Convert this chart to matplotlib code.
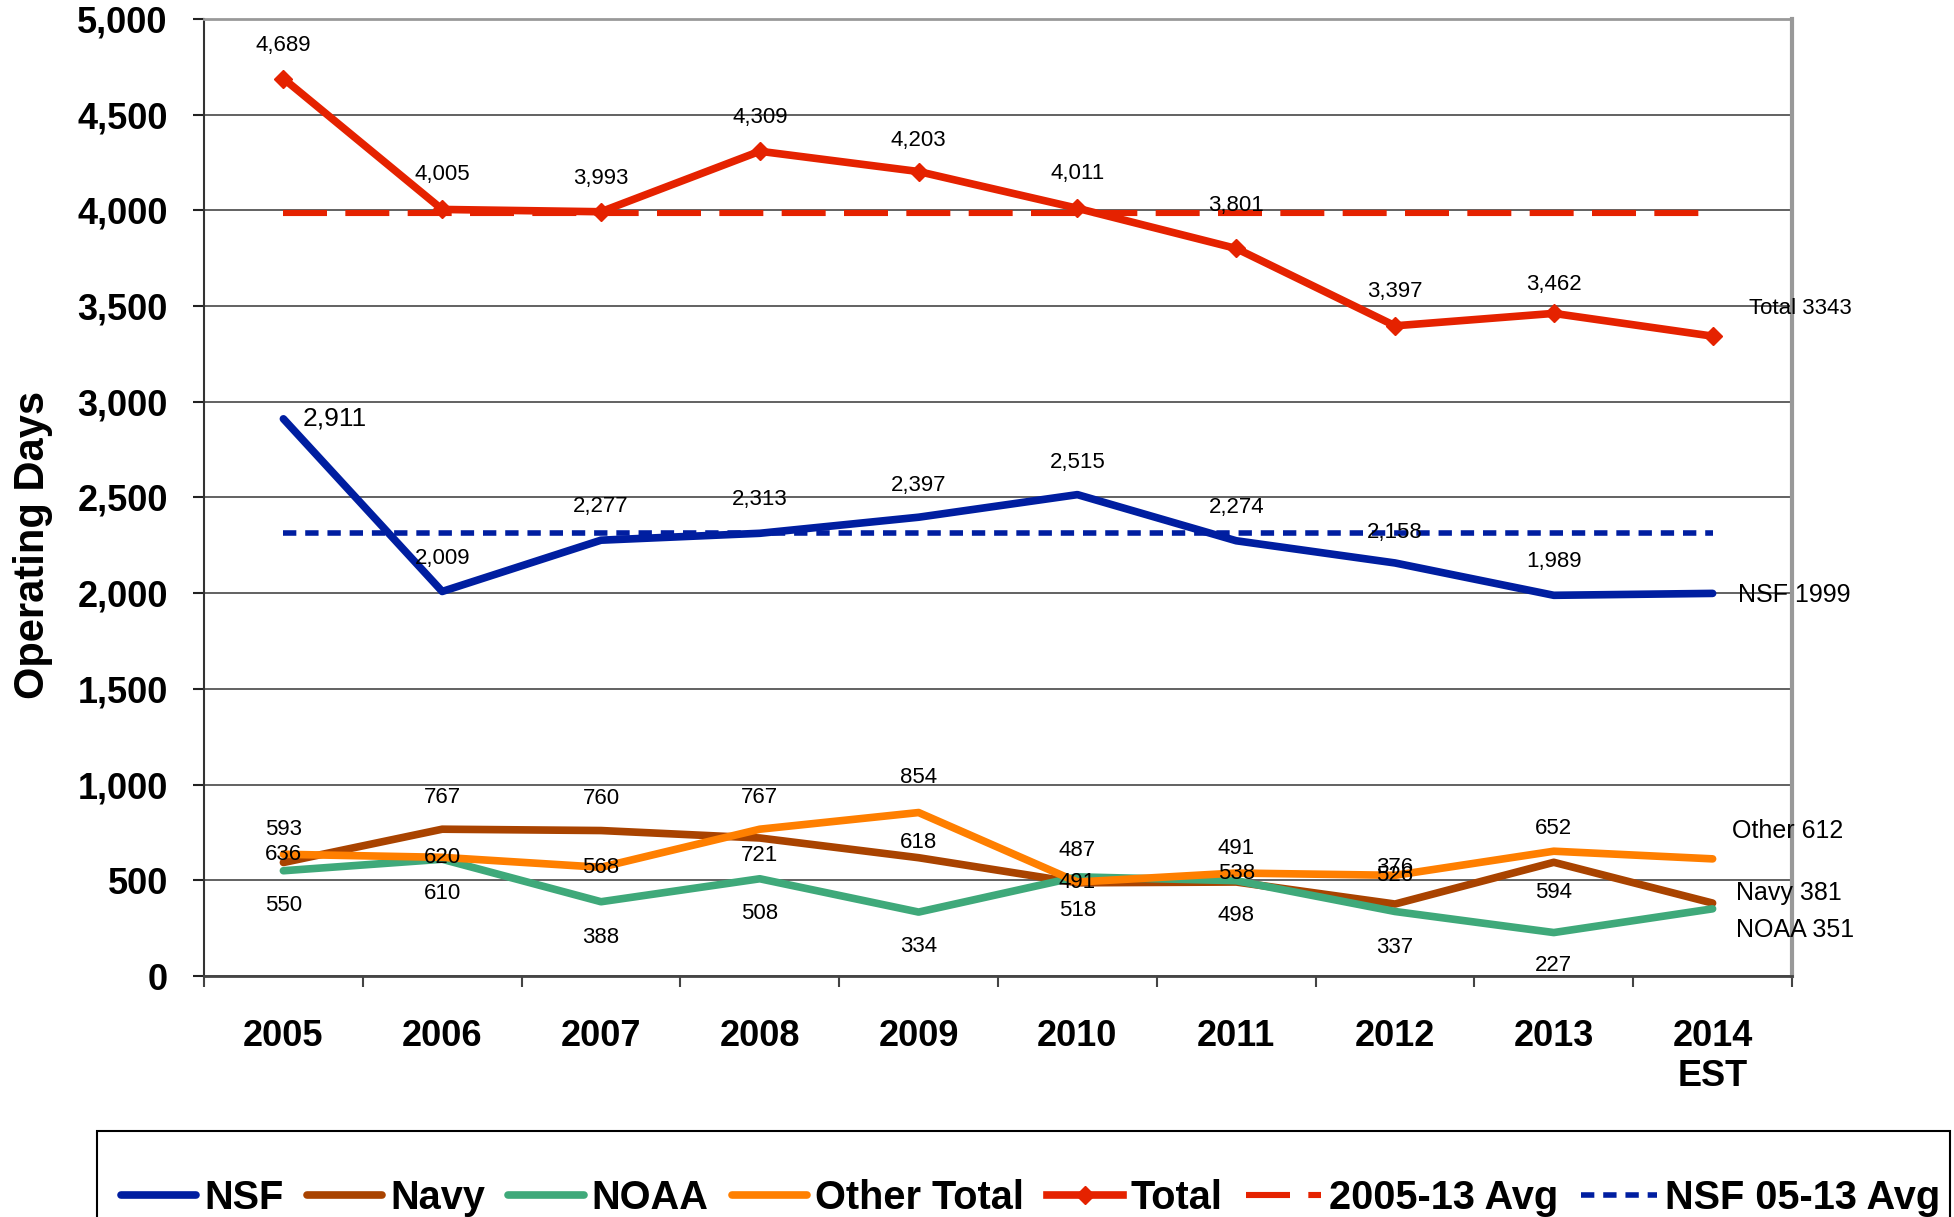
import matplotlib
matplotlib.use('Agg')
import matplotlib.pyplot as plt
from matplotlib.patches import Rectangle

plt.rcParams['font.family'] = ['Liberation Sans', 'DejaVu Sans']

# Data
years = ['2005', '2006', '2007', '2008', '2009', '2010', '2011', '2012', '2013', '2014\nEST']
nsf = [2911, 2009, 2277, 2313, 2397, 2515, 2274, 2158, 1989, 1999]
navy = [593, 767, 760, 721, 618, 487, 491, 376, 594, 381]
noaa = [550, 610, 388, 508, 334, 518, 498, 337, 227, 351]
other = [636, 620, 568, 767, 854, 491, 538, 526, 652, 612]
total = [4689, 4005, 3993, 4309, 4203, 4011, 3801, 3397, 3462, 3343]
total_avg = [3986] * 10
nsf_avg = [2316] * 10

# label offsets (points, + is up)
off_total = [24, 25, 24, 24, 22, 25, 31, 25, 21]
off_nsf = [24, 24, 24, 23, 23, 24, 22, 24]
off_navy = [24, 23, 23, -12.5, 11, 23, 24, 26, -22]
off_other = [0, 0, 0, 23, 25, 0, 0, 0, 16]
off_noaa = [-25, -25, -26, -25, -25, -24, -25, -26, -24]

c_nsf = '#001EA0'
c_navy = '#A94300'
c_noaa = '#3FA97A'
c_other = '#FF7F00'
c_total = '#E52200'

fig = plt.figure(figsize=(19.54, 12.17), dpi=100)
ax = fig.add_axes([204 / 1954, 1 - 976 / 1217, (1792 - 204) / 1954, (976 - 19) / 1217])
x = list(range(len(years)))

lw = 5.5
ax.plot(x, total_avg, color=c_total, lw=4.4, dashes=(7.2, 3.0), label='2005-13 Avg', zorder=2)
ax.plot(x, nsf_avg, color=c_nsf, lw=4, dashes=(2.4, 1.6), label='NSF 05-13 Avg', zorder=2)
ax.plot(x, nsf, color=c_nsf, lw=lw, label='NSF', zorder=3, solid_capstyle='round')
ax.plot(x, navy, color=c_navy, lw=lw, label='Navy', zorder=3, solid_capstyle='round')
ax.plot(x, noaa, color=c_noaa, lw=lw, label='NOAA', zorder=3, solid_capstyle='round')
ax.plot(x, other, color=c_other, lw=lw, label='Other Total', zorder=3, solid_capstyle='round')
ax.plot(x, total, color=c_total, lw=lw, marker='D', ms=9, label='Total', zorder=3)

ax.set_xlim(-0.5, 9.5)
ax.set_ylim(0, 5000)
ax.set_yticks(range(0, 5001, 500))
ax.set_yticklabels([f'{v:,}' for v in range(0, 5001, 500)], fontsize=26, fontweight='bold')
ax.set_xticks(x)
ax.set_xticklabels(years, fontsize=26, fontweight='bold', linespacing=1.2)
ax.set_xticks([i + 0.5 for i in range(-1, 10)], minor=True)
ax.tick_params(axis='x', which='major', length=0, pad=31)
ax.tick_params(axis='x', which='minor', length=8, width=1.5, color='#444444', direction='out')
ax.tick_params(axis='y', length=8, width=1.5, pad=18, color='#222222')
ax.grid(axis='y', color='#555555', lw=1.3, zorder=0)
ax.set_axisbelow(True)
ax.spines['left'].set_color('#333333')
ax.spines['left'].set_linewidth(1.5)
ax.spines['bottom'].set_color('#444444')
ax.spines['bottom'].set_linewidth(2)
ax.spines['top'].set_color('#999999')
ax.spines['top'].set_linewidth(2)
ax.spines['right'].set_color('#999999')
ax.spines['right'].set_linewidth(3)

ax.set_ylabel('Operating Days', fontsize=30, fontweight='bold')
ax.yaxis.set_label_coords(-0.095, 0.45)

lab = dict(textcoords='offset points', ha='center', va='center', fontsize=16, zorder=5)
for i in range(9):
    ax.annotate(f'{total[i]:,}', (i, total[i]), xytext=(0, off_total[i]), **lab)
ax.annotate(f'{nsf[0]:,}', (0, nsf[0]), xytext=(14, 0), textcoords='offset points',
            ha='left', va='center', fontsize=19, zorder=5)
for i in range(1, 9):
    ax.annotate(f'{nsf[i]:,}', (i, nsf[i]), xytext=(0, off_nsf[i - 1]), **lab)
for i in range(9):
    ax.annotate(f'{navy[i]:,}', (i, navy[i]), xytext=(0, off_navy[i]), **lab)
    ax.annotate(f'{other[i]:,}', (i, other[i]), xytext=(0, off_other[i]), **lab)
    ax.annotate(f'{noaa[i]:,}', (i, noaa[i]), xytext=(0, off_noaa[i]), **lab)

end = dict(textcoords='offset points', ha='left', va='center', fontsize=18, zorder=5)
ax.annotate(f'Total {total[9]}', (9, total[9]), xytext=(26, 20), textcoords='offset points',
            ha='left', va='center', fontsize=16, zorder=5)
ax.annotate(f'NSF {nsf[9]}', (9, nsf[9]), xytext=(18, -1), **end)
ax.annotate(f'Other {other[9]}', (9, other[9]), xytext=(14, 20), **end)
ax.annotate(f'Navy {navy[9]}', (9, navy[9]), xytext=(17, 7), **end)
ax.annotate(f'NOAA {noaa[9]}', (9, noaa[9]), xytext=(17, -15), **end)

# legend
h, l = ax.get_legend_handles_labels()
order = ['NSF', 'Navy', 'NOAA', 'Other Total', 'Total', '2005-13 Avg', 'NSF 05-13 Avg']
hd = dict(zip(l, h))
leg = ax.legend([hd[k] for k in order], order, loc='center left',
                bbox_to_anchor=(121 / 1954, 1 - 1198 / 1217), bbox_transform=fig.transFigure,
                ncol=7, frameon=False, prop={'size': 28.6, 'weight': 'bold'},
                handlelength=1.9, handletextpad=0.2, columnspacing=0.58,
                borderpad=0, borderaxespad=0)
fig.patches.append(Rectangle((97 / 1954, -0.05), (1950 - 97) / 1954, (1217 - 1131) / 1217 + 0.05,
                             transform=fig.transFigure, fill=False, ec='black', lw=1.5))

plt.savefig('out.png', dpi=100)
